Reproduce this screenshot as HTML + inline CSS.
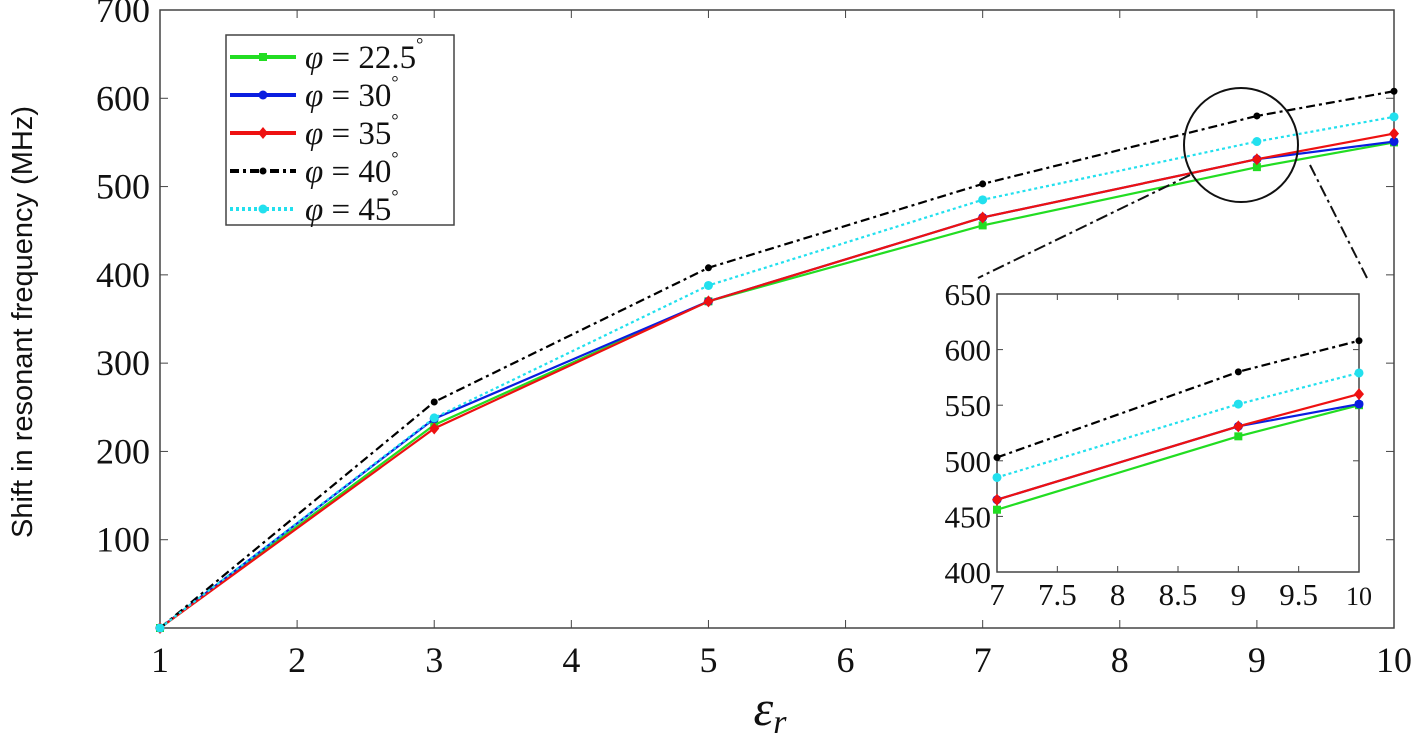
<!DOCTYPE html>
<html><head><meta charset="utf-8"><style>
body{margin:0;background:#fff;}
svg{display:block;}
text{font-family:"Liberation Serif",serif;fill:#111;}
</style></head><body>
<svg id="c" width="1418" height="740"></svg>
<script>
const xVals=[1,3,5,7,9,10];
const series=[
 {name:"φ = 22.5°",lab:"22.5",color:"#22dd22",dash:"",vals:[0,230,370,456,522,550]},
 {name:"φ = 30°",lab:"30",color:"#0a1ee0",dash:"",vals:[0,237,370,465,531,551]},
 {name:"φ = 35°",lab:"35",color:"#ee1111",dash:"",vals:[0,226,370,465,531,560]},
 {name:"φ = 40°",lab:"40",color:"#000000",dash:"9,4,3,4",vals:[0,256,408,503,580,608]},
 {name:"φ = 45°",lab:"45",color:"#22e0ee",dash:"3,3",vals:[0,238,388,485,551,579]}
];
const xTicks=[1,2,3,4,5,6,7,8,9,10];
const yTicks=[100,200,300,400,500,600,700];
const inXTicks=[7,7.5,8,8.5,9,9.5,10];
const inYTicks=[400,450,500,550,600,650];
const NS="http://www.w3.org/2000/svg";
const svg=document.getElementById('c');
function mk(t,a,p){const e=document.createElementNS(NS,t);for(const k in a)e.setAttribute(k,a[k]);(p||svg).appendChild(e);return e;}
const L=160,R=1394,T=10,B=628;
const X=v=>L+(v-1)/9*(R-L), Y=v=>B-v/700*(B-T);
let f=mk('rect',{x:L,y:T,width:R-L,height:B-T,fill:'none',stroke:'#444','stroke-width':1.5});

xTicks.forEach(v=>{
 mk('line',{x1:X(v),x2:X(v),y1:B,y2:B-8,stroke:'#444'});mk('line',{x1:X(v),x2:X(v),y1:T,y2:T+8,stroke:'#444'});
 const t=mk('text',{x:X(v),y:672,'text-anchor':'middle','font-size':36});t.textContent=v;
 
});
yTicks.forEach(v=>{
 mk('line',{x1:L,x2:L+8,y1:Y(v),y2:Y(v),stroke:'#444'});mk('line',{x1:R,x2:R-8,y1:Y(v),y2:Y(v),stroke:'#444'});
 const t=mk('text',{x:150,y:Y(v)+12,'text-anchor':'end','font-size':36});t.textContent=v;
 
});
let yt=mk('text',{x:0,y:0,'text-anchor':'middle','font-size':29,transform:'translate(32,322) rotate(-90)'});
yt.style.fontFamily='"Liberation Sans",sans-serif';yt.textContent='Shift in resonant frequency (MHz)';

let xt=mk('text',{x:770,y:725,'text-anchor':'middle','font-size':50,'font-style':'italic'});
xt.innerHTML='ε<tspan font-size="34" dy="8">r</tspan>';

function marker(g,x,y,c,i){
 if(i===0)mk('rect',{x:x-4,y:y-4,width:8,height:8,fill:c},g);
 else if(i===2)mk('path',{d:`M${x} ${y-6}L${x+5} ${y}L${x} ${y+6}L${x-5} ${y}Z`,fill:c},g);
 else mk('circle',{cx:x,cy:y,r:i===3?3.5:4.5,fill:c},g);
}
function draw(Xf,Yf,filter,name){
 series.forEach((s,i)=>{
  const g=mk('g',{});
  
  const pts=xVals.map((x,j)=>[x,s.vals[j]]).filter(p=>filter(p[0]));
  mk('polyline',{points:pts.map(p=>Xf(p[0])+','+Yf(p[1])).join(' '),fill:'none',stroke:s.color,'stroke-width':2.2,'stroke-dasharray':s.dash},g);
  pts.forEach(p=>marker(g,Xf(p[0]),Yf(p[1]),s.color,i));
 });
}
draw(X,Y,()=>true,'main');
const lg=mk('g',{});
mk('rect',{x:226,y:35,width:228,height:190,fill:'#fff',stroke:'#444','stroke-width':1.5},lg);
series.forEach((s,i)=>{
 const y=57+i*38;
 const e=mk('g',{},lg);
 mk('line',{x1:230,x2:296,y1:y,y2:y,stroke:s.color,'stroke-width':4,'stroke-dasharray':s.dash},e);
 marker(e,263,y,s.color,i);
 const t=mk('text',{x:305,y:y+11,'font-size':33},e);
 t.innerHTML='<tspan font-style="italic">φ</tspan> = '+s.lab+'<tspan font-size="18" dy="-18">°</tspan>';
});
mk('circle',{cx:1241,cy:145,r:57,fill:'none',stroke:'#111','stroke-width':2});
mk('line',{x1:1190,x2:978,y1:175,y2:278,stroke:'#111','stroke-width':2,'stroke-dasharray':'12,4,3,4'});
mk('line',{x1:1310,x2:1367,y1:165,y2:278,stroke:'#111','stroke-width':2,'stroke-dasharray':'12,4,3,4'});
const iL=997,iR=1359,iT=294,iB=572;
const IX=v=>iL+(v-7)/3*(iR-iL), IY=v=>iB-(v-400)/250*(iB-iT);
const ig=mk('g',{});
mk('rect',{x:905,y:280,width:480,height:330,fill:'#fff'},ig);
mk('rect',{x:iL,y:iT,width:iR-iL,height:iB-iT,fill:'none',stroke:'#444','stroke-width':1.5},ig);
inXTicks.forEach(v=>{
 mk('line',{x1:IX(v),x2:IX(v),y1:iB,y2:iB-6,stroke:'#444'},ig);mk('line',{x1:IX(v),x2:IX(v),y1:iT,y2:iT+6,stroke:'#444'},ig);
 const t=mk('text',{x:IX(v),y:605,'text-anchor':'middle','font-size':v===10?26:31},ig);t.textContent=v;
 
});
inYTicks.forEach(v=>{
 mk('line',{x1:iL,x2:iL+6,y1:IY(v),y2:IY(v),stroke:'#444'},ig);mk('line',{x1:iR,x2:iR-6,y1:IY(v),y2:IY(v),stroke:'#444'},ig);
 const t=mk('text',{x:iL-6,y:IY(v)+11,'text-anchor':'end','font-size':31},ig);t.textContent=v;
 
});
draw(IX,IY,x=>x>=7,'inset');
</script>
</body></html>
